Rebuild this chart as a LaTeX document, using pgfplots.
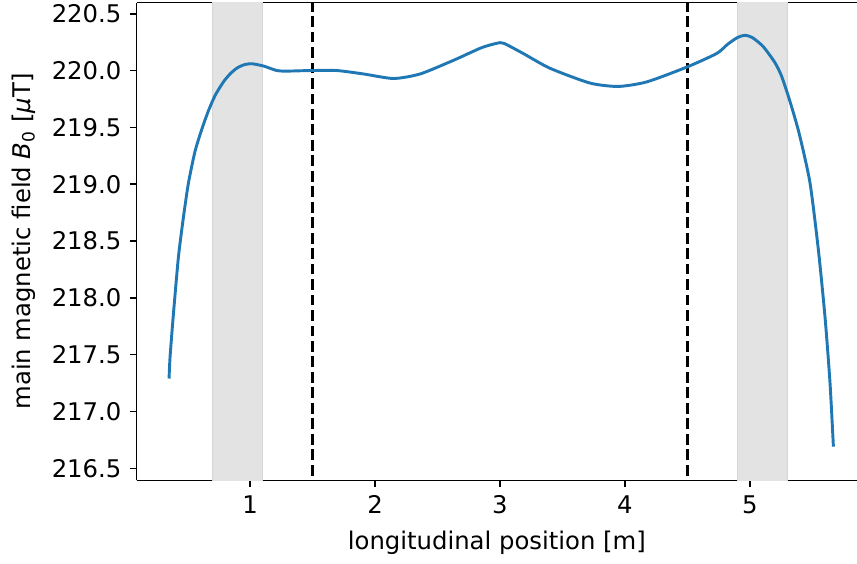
\documentclass[border=0pt]{standalone}
\usepackage{fontspec}
\setmainfont{DejaVu Sans}
\usepackage{pgfplots}
\pgfplotsset{compat=1.18}
\definecolor{tabblue}{HTML}{1F77B4}
\begin{document}
\fontsize{12.5}{15}\selectfont
\begin{tikzpicture}
\useasboundingbox (-70.26pt,-42.51pt) rectangle (370.23pt,246.88pt);
\begin{axis}[
  at={(0,0)}, anchor=south west,
  scale only axis, width=370.23pt, height=245.49pt,
  xmin=0.093, xmax=5.857, ymin=216.394, ymax=220.597,
  axis y line*=left, axis x line*=box,
  axis line style={line width=0.8pt},
  tick align=outside, xtick pos=bottom, ytick pos=left,
  major tick length=3.5pt,
  tick style={line width=0.8pt, black},
  xtick={1,2,3,4,5},
  ytick={216.5,217,217.5,218,218.5,219,219.5,220,220.5},
  yticklabel style={/pgf/number format/fixed, /pgf/number format/fixed zerofill, /pgf/number format/precision=1},
  xticklabel style={/pgf/number format/fixed},
  /pgf/number format/assume math mode=true,
  ticklabel style={font=\fontsize{12.5}{15}\selectfont},
  label style={font=\fontsize{12.5}{15}\selectfont},
  xlabel={longitudinal position [m]},
  ylabel={main magnetic field \textit{B}\textsubscript{0} [\textit{μ}T]},
  clip=true,
]
\addplot[fill=black!11, draw=black!16, line width=0.6pt] coordinates {(0.7,216.3) (1.1,216.3) (1.1,220.7) (0.7,220.7)} -- cycle;
\addplot[fill=black!11, draw=black!16, line width=0.6pt] coordinates {(4.9,216.3) (5.3,216.3) (5.3,220.7) (4.9,220.7)} -- cycle;
\addplot[black, line width=1.5pt, dash pattern=on 5.55pt off 2.4pt] coordinates {(1.5,216.3) (1.5,220.7)};
\addplot[black, line width=1.5pt, dash pattern=on 5.55pt off 2.4pt] coordinates {(4.5,216.3) (4.5,220.7)};
\addplot[tabblue, line width=1.5pt, smooth, tension=0.4] coordinates {
(0.352,217.29) (0.36,217.48) (0.387,217.86) (0.427,218.36) (0.467,218.71)
(0.507,219.01) (0.56,219.29) (0.613,219.48) (0.665,219.64) (0.72,219.78)
(0.787,219.90) (0.84,219.97) (0.893,220.02) (0.95,220.05) (1.013,220.06) (1.107,220.04) (1.214,220.00)
(1.294,219.995) (1.48,220.0) (1.694,220.0) (1.908,219.97) (2.148,219.93)
(2.361,219.97) (2.628,220.09) (2.85,220.20) (2.975,220.24) (3.03,220.24)
(3.186,220.15) (3.40,220.02) (3.72,219.89) (3.946,219.86) (4.174,219.90)
(4.494,220.03) (4.734,220.15) (4.82,220.23) (4.90,220.29) (4.961,220.31) (5.02,220.29) (5.107,220.21)
(5.2,220.07) (5.25,219.96) (5.3,219.80) (5.35,219.62) (5.4,219.42) (5.481,219.01)
(5.548,218.42) (5.601,217.83) (5.641,217.25) (5.668,216.69)
};
\end{axis}
\end{tikzpicture}
\end{document}
